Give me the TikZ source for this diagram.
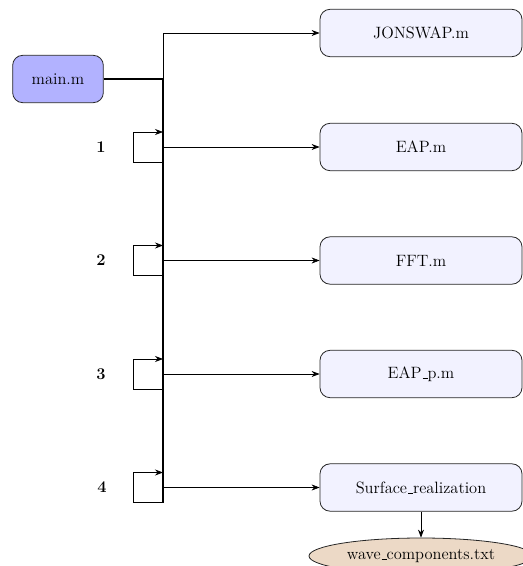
\documentclass[tikz,border=0pt]{standalone}
\usetikzlibrary{arrows.meta,shapes.geometric}
\newcommand\ulbar{\leavevmode\kern.06em\vbox{\hrule width.3em}}
\begin{document}
\begin{tikzpicture}[x=0.75pt,y=-0.75pt,
  every node/.style={font=\fontsize{12.3pt}{14.8pt}\selectfont},
  filebox/.style={draw=black!85,line width=0.6pt,rounded corners=7.5pt,fill=blue!5,minimum width=151.5pt,minimum height=35.5pt},
  mainbox/.style={draw=black!85,line width=0.6pt,rounded corners=7.5pt,fill=blue!30,minimum width=68pt,minimum height=35.5pt},
  outfile/.style={draw=black!85,line width=0.6pt,ellipse,fill=brown!30,minimum width=168pt,minimum height=27pt,inner sep=0pt},
  steplabel/.style={font=\fontsize{12.3pt}{14.8pt}\selectfont\bfseries},
  arr/.style={-{Stealth[length=6pt,width=4.5pt]},line width=0.55pt},
  busline/.style={line width=1.2pt}]
\useasboundingbox (0,0) rectangle (523,566);
\node[mainbox] (main) at (58,79) {main.m};
\node[filebox] (jon) at (421,33) {JONSWAP.m};
\node[filebox] (eap) at (421,147) {EAP.m};
\node[filebox] (fft) at (421,260.5) {FFT.m};
\node[filebox] (eapp) at (421,374) {EAP\ulbar p.m};
\node[filebox] (surf) at (421,487.5) {Surface\ulbar realization};
\node[outfile] (wave) at (421,556) {wave\ulbar components.txt};
\node[steplabel] (n1) at (101,147) {1};
\node[steplabel] (n2) at (101,260.5) {2};
\node[steplabel] (n3) at (101,374) {3};
\node[steplabel] (n4) at (102,487.5) {4};
\coordinate (j0) at (163,79);
\coordinate (jtop) at (163,33);
\coordinate (jend) at (163,502.5);
\draw[busline] (main.east) -- (j0) -- (jend);
\draw[arr] (j0) -- (jtop) -- (jon.west);
\foreach \c/\t in {147/eap,260.5/fft,374/eapp,487.5/surf}{
  \coordinate (a\t) at (163,\c);
  \coordinate (lt\t) at (163,\c-15);
  \coordinate (lb\t) at (163,\c+15);
  \draw[arr] (lb\t) -- ++(-30,0) |- (lt\t);
  \draw[arr] (a\t) -- (\t.west);
}
\draw[arr] (surf.south) -- (wave.north);
\end{tikzpicture}
\end{document}
